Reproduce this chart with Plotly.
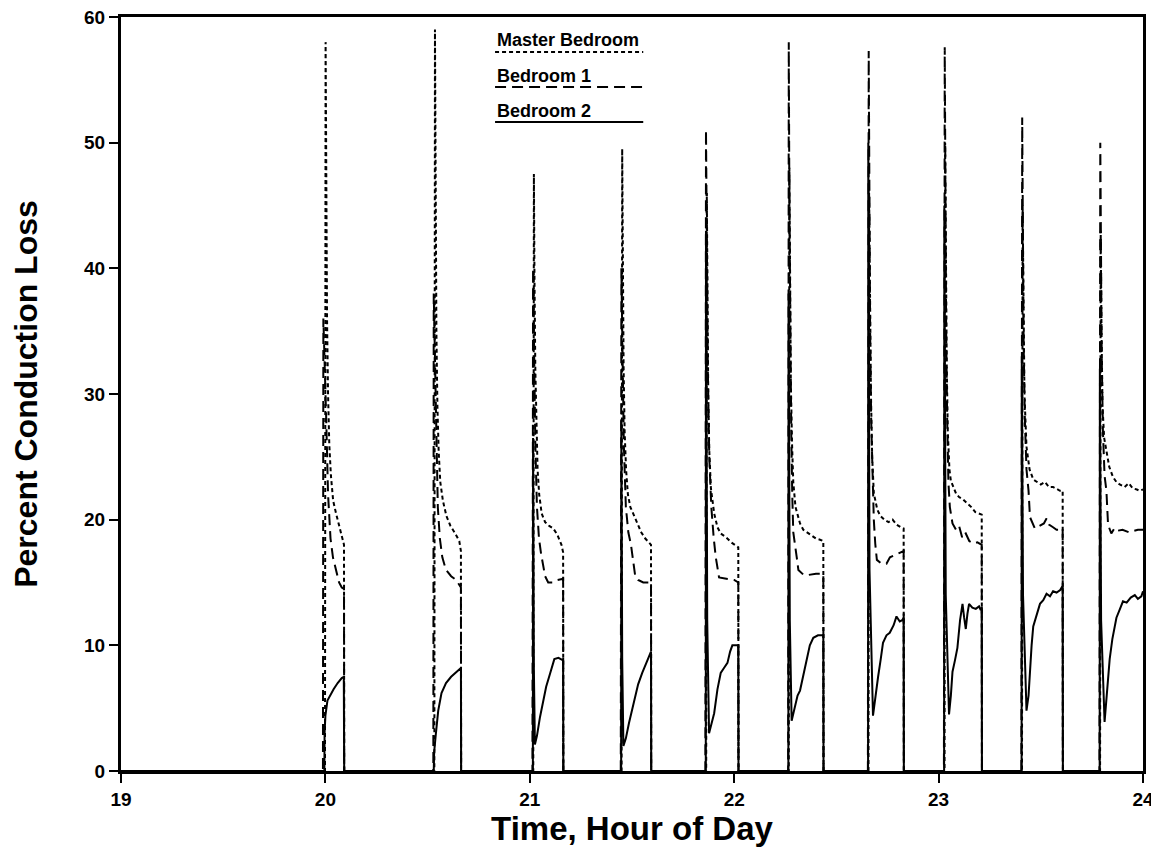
import plotly.graph_objects as go

# ---------------- data (hours, percent) ----------------
master_t = [
    [19.0, 19.998, 20.001, 20.004, 20.008, 20.013, 20.019, 20.027, 20.038, 20.052, 20.067, 20.082, 20.091, 20.092],
    [20.533, 20.536, 20.539, 20.543, 20.548, 20.554, 20.562, 20.575, 20.592, 20.612, 20.635, 20.655, 20.663, 20.664],
    [21.017, 21.020, 21.023, 21.027, 21.032, 21.038, 21.046, 21.058, 21.075, 21.095, 21.115, 21.135, 21.155, 21.163, 21.164],
    [21.449, 21.452, 21.455, 21.459, 21.464, 21.471, 21.480, 21.492, 21.508, 21.525, 21.545, 21.565, 21.585, 21.593, 21.594],
    [21.863, 21.866, 21.869, 21.873, 21.878, 21.886, 21.902, 21.918, 21.934, 21.960, 21.985, 22.005, 22.020, 22.021],
    [22.267, 22.270, 22.273, 22.277, 22.283, 22.289, 22.300, 22.322, 22.338, 22.370, 22.400, 22.420, 22.436, 22.437],
    [22.657, 22.660, 22.664, 22.669, 22.675, 22.683, 22.700, 22.715, 22.735, 22.755, 22.775, 22.795, 22.815, 22.829, 22.830],
    [23.029, 23.032, 23.036, 23.040, 23.045, 23.053, 23.060, 23.072, 23.085, 23.100, 23.120, 23.140, 23.160, 23.180, 23.198, 23.211, 23.212],
    [23.408, 23.411, 23.415, 23.420, 23.430, 23.445, 23.463, 23.480, 23.500, 23.520, 23.540, 23.560, 23.580, 23.594, 23.607, 23.608],
    [23.790, 23.793, 23.797, 23.802, 23.810, 23.821, 23.835, 23.853, 23.870, 23.886, 23.910, 23.930, 23.950, 23.970, 23.984, 24.0],
]
master_v = [
    [0, 0, 58, 45, 36, 30, 26, 23.5, 21.5, 20.5, 19.5, 18.5, 18.0, 0],
    [0, 59, 44, 35, 29, 25.5, 23, 21.5, 20.3, 19.5, 18.9, 18.3, 17.5, 0],
    [0, 47.5, 39, 32, 27, 24, 22, 20.5, 19.8, 19.5, 19.3, 18.8, 18, 17.4, 0],
    [0, 49.5, 39, 32, 27, 24, 22, 21, 20.4, 19.7, 19, 18.5, 18.2, 18, 0],
    [0, 46, 37, 30, 25.5, 22.5, 20.5, 19.4, 18.9, 18.6, 18.2, 18, 17.8, 0],
    [0, 48, 38, 31, 26, 23, 21, 19.7, 19.2, 18.8, 18.5, 18.4, 18.3, 0],
    [0, 46, 37, 30, 25, 22.1, 20.8, 20.3, 20, 19.8, 20, 19.6, 19.4, 19.3, 0],
    [0, 50, 40, 32, 27, 24, 23.1, 22.6, 22.1, 21.8, 21.6, 21.3, 21.0, 20.6, 20.5, 20.4, 0],
    [0, 45, 36, 30, 25.8, 24, 23.2, 23, 22.8, 23.0, 22.6, 22.6, 22.4, 22.3, 22.3, 0],
    [0, 43, 35, 29, 26.5, 25.5, 24.2, 23.4, 23.0, 22.8, 22.6, 22.9, 22.5, 22.4, 22.3, 22.4],
]

bed1_t = [
    [19.0, 19.988, 19.990, 19.996, 20.004, 20.013, 20.025, 20.037, 20.052, 20.067, 20.080, 20.091, 20.092],
    [20.528, 20.530, 20.535, 20.542, 20.550, 20.560, 20.572, 20.590, 20.615, 20.640, 20.655, 20.663, 20.664],
    [21.013, 21.016, 21.021, 21.027, 21.035, 21.045, 21.055, 21.065, 21.075, 21.090, 21.110, 21.135, 21.163, 21.164],
    [21.445, 21.448, 21.453, 21.460, 21.470, 21.482, 21.495, 21.505, 21.515, 21.530, 21.555, 21.575, 21.593, 21.594],
    [21.859, 21.862, 21.866, 21.871, 21.878, 21.888, 21.900, 21.910, 21.926, 21.960, 22.000, 22.020, 22.021],
    [22.264, 22.267, 22.270, 22.274, 22.279, 22.284, 22.289, 22.306, 22.314, 22.340, 22.363, 22.400, 22.436, 22.437],
    [22.654, 22.658, 22.661, 22.665, 22.670, 22.676, 22.683, 22.690, 22.698, 22.720, 22.745, 22.762, 22.790, 22.815, 22.829, 22.830],
    [23.026, 23.030, 23.033, 23.037, 23.042, 23.048, 23.055, 23.068, 23.085, 23.100, 23.115, 23.130, 23.150, 23.170, 23.190, 23.211, 23.212],
    [23.405, 23.409, 23.412, 23.416, 23.422, 23.430, 23.440, 23.447, 23.471, 23.490, 23.515, 23.528, 23.540, 23.560, 23.577, 23.600, 23.607, 23.608],
    [23.787, 23.791, 23.794, 23.798, 23.804, 23.812, 23.821, 23.829, 23.845, 23.860, 23.870, 23.900, 23.930, 23.951, 23.975, 24.0],
]
bed1_v = [
    [0, 0, 36, 33, 28, 22, 18.5, 17, 16, 15, 14.6, 14.5, 0],
    [0, 38, 33, 27, 21, 18.5, 17, 16, 15.5, 15.2, 14.8, 14.6, 0],
    [0, 40, 33, 26, 21, 18.5, 17.3, 16.5, 15.5, 15.0, 15.0, 15.2, 15.3, 0],
    [0, 40, 33, 26, 21, 19, 18, 16.8, 15.6, 15.2, 15, 15, 15, 0],
    [0, 51, 40, 32, 25, 21, 18.5, 17, 15.4, 15.3, 15.2, 15.0, 0],
    [0, 58, 45, 35, 27, 22, 19, 17, 16, 15.6, 15.6, 15.7, 15.7, 0],
    [0, 57.3, 45, 35, 28, 23, 20, 18.1, 16.8, 16.5, 16.5, 17, 17.2, 17.4, 17.5, 0],
    [0, 57.6, 45, 35, 28, 23, 21, 19.7, 19.2, 19.5, 18.6, 19.0, 18.3, 18.1, 18.2, 18.0, 0],
    [0, 52, 42, 34, 28, 24, 22.3, 20.2, 19.3, 19.5, 19.7, 20.1, 19.6, 19.4, 19.2, 19.2, 19.3, 0],
    [0, 50, 40, 33, 27, 23.5, 22.3, 19.6, 18.9, 19.3, 19.1, 19.2, 19.0, 19.1, 19.2, 19.2],
]

bed2_t = [
    [19.0, 19.995, 19.996, 20.000, 20.010, 20.025, 20.040, 20.060, 20.080, 20.090, 20.092],
    [20.530, 20.532, 20.540, 20.552, 20.568, 20.590, 20.615, 20.640, 20.658, 20.663, 20.664],
    [21.015, 21.016, 21.020, 21.025, 21.035, 21.050, 21.065, 21.080, 21.100, 21.120, 21.140, 21.163, 21.164],
    [21.447, 21.448, 21.452, 21.458, 21.470, 21.485, 21.500, 21.515, 21.530, 21.550, 21.570, 21.585, 21.593, 21.594],
    [21.861, 21.862, 21.868, 21.877, 21.890, 21.902, 21.918, 21.934, 21.950, 21.967, 21.980, 21.991, 22.010, 22.020, 22.021],
    [22.265, 22.266, 22.272, 22.281, 22.295, 22.310, 22.322, 22.340, 22.355, 22.370, 22.387, 22.410, 22.428, 22.436, 22.437],
    [22.655, 22.656, 22.662, 22.679, 22.690, 22.704, 22.716, 22.728, 22.745, 22.761, 22.780, 22.794, 22.810, 22.822, 22.829, 22.830],
    [23.027, 23.028, 23.035, 23.051, 23.060, 23.068, 23.080, 23.092, 23.105, 23.117, 23.125, 23.133, 23.141, 23.149, 23.165, 23.182, 23.198, 23.206, 23.211, 23.212],
    [23.406, 23.407, 23.413, 23.430, 23.440, 23.447, 23.455, 23.463, 23.479, 23.496, 23.512, 23.528, 23.545, 23.560, 23.577, 23.595, 23.602, 23.607, 23.608],
    [23.788, 23.789, 23.795, 23.812, 23.820, 23.828, 23.837, 23.850, 23.870, 23.885, 23.902, 23.920, 23.940, 23.960, 23.975, 23.992, 24.0],
]
bed2_v = [
    [0, 0, 3.0, 4.4, 5.6, 6.1, 6.5, 7.0, 7.4, 7.5, 0],
    [0, 1.5, 2.9, 4.8, 6.2, 7.0, 7.5, 7.9, 8.2, 8.2, 0],
    [0, 26.5, 8, 2.1, 2.8, 4.3, 5.6, 6.7, 7.8, 8.9, 9.0, 8.8, 0],
    [0, 28, 9, 2, 2.6, 3.8, 4.8, 6, 6.9, 7.8, 8.6, 9.2, 9.5, 0],
    [0, 43, 12, 3, 3.8, 4.6, 6.5, 7.8, 8.2, 8.6, 9.5, 10, 10, 10, 0],
    [0, 38, 12, 4, 5, 6, 6.4, 7.8, 9.1, 10, 10.6, 10.8, 10.8, 10.8, 0],
    [0, 50, 16, 4.4, 6, 7.5, 8.8, 10.2, 10.8, 11, 11.6, 12.3, 11.9, 12.0, 12.2, 0],
    [0, 45, 14, 4.5, 6, 7.9, 8.8, 9.8, 12, 13.3, 12.2, 11.3, 12.5, 13.3, 13, 12.9, 13.1, 12.8, 13.0, 0],
    [0, 33, 14, 4.8, 6, 8.0, 10, 11.5, 12.3, 13.3, 13.6, 14.1, 13.9, 14.3, 14.2, 14.4, 14.6, 14.5, 0],
    [0, 32, 12, 3.9, 5.5, 7.5, 8.9, 10.5, 12.2, 12.8, 13.5, 13.4, 13.8, 14.0, 13.7, 13.9, 14.3],
]

series_names = ["Master Bedroom", "Bedroom 1", "Bedroom 2"]
x_ticks = [19, 20, 21, 22, 23, 24]
y_ticks = [0, 10, 20, 30, 40, 50, 60]
x_title = "Time, Hour of Day"
y_title = "Percent Conduction Loss"


def flat(parts):
    out = []
    for p in parts:
        out.extend(p)
    return out


FONT = "Liberation Sans, Arial, Helvetica, sans-serif"
DASH = {"Master Bedroom": "4px,3px", "Bedroom 1": "11px,6px", "Bedroom 2": "solid"}

fig = go.Figure()
for name, ts, vs in [
    ("Master Bedroom", master_t, master_v),
    ("Bedroom 1", bed1_t, bed1_v),
    ("Bedroom 2", bed2_t, bed2_v),
]:
    fig.add_trace(go.Scatter(
        x=flat(ts), y=flat(vs), mode="lines", name=name,
        line=dict(color="black", width=2, dash=DASH[name]),
        showlegend=False, hoverinfo="x+y+name",
    ))

# legend drawn like the original: label with a line sample beneath it
leg_y_text = [0.9695, 0.9218, 0.8753]
leg_y_line = [0.9536, 0.9072, 0.8607]
for name, yt, yl in zip(series_names, leg_y_text, leg_y_line):
    fig.add_annotation(
        x=0.366, y=yt, xref="paper", yref="paper", text=name, showarrow=False,
        xanchor="left", yanchor="middle",
        font=dict(family=FONT, size=18, color="black", weight="bold"),
    )
    fig.add_shape(
        type="line", xref="paper", yref="paper", x0=0.366, x1=0.511, y0=yl, y1=yl,
        line=dict(color="black", width=2, dash=DASH[name]),
    )

axis_common = dict(
    showgrid=False, zeroline=False, showline=True, linecolor="black", linewidth=3,
    mirror=True, ticks="outside", ticklen=9, tickwidth=2, tickcolor="black",
    ticklabeloverflow="allow",
    tickfont=dict(family=FONT, size=19, color="black", weight="bold"),
)
fig.update_xaxes(
    range=[19, 24], tickvals=x_ticks, ticktext=[str(v) for v in x_ticks],
    title=dict(text=x_title, standoff=0,
               font=dict(family=FONT, size=33, color="black", weight="bold")),
    **axis_common,
)
fig.update_yaxes(
    range=[0, 60], tickvals=y_ticks, ticktext=[str(v) for v in y_ticks],
    title=dict(text=y_title, standoff=44,
               font=dict(family=FONT, size=32, color="black", weight="bold")),
    **axis_common,
)
fig.update_layout(
    width=1151, height=851,
    margin=dict(l=113, r=16, t=9, b=88, autoexpand=False),
    plot_bgcolor="white", paper_bgcolor="white",
)
fig.write_html("out.html")
